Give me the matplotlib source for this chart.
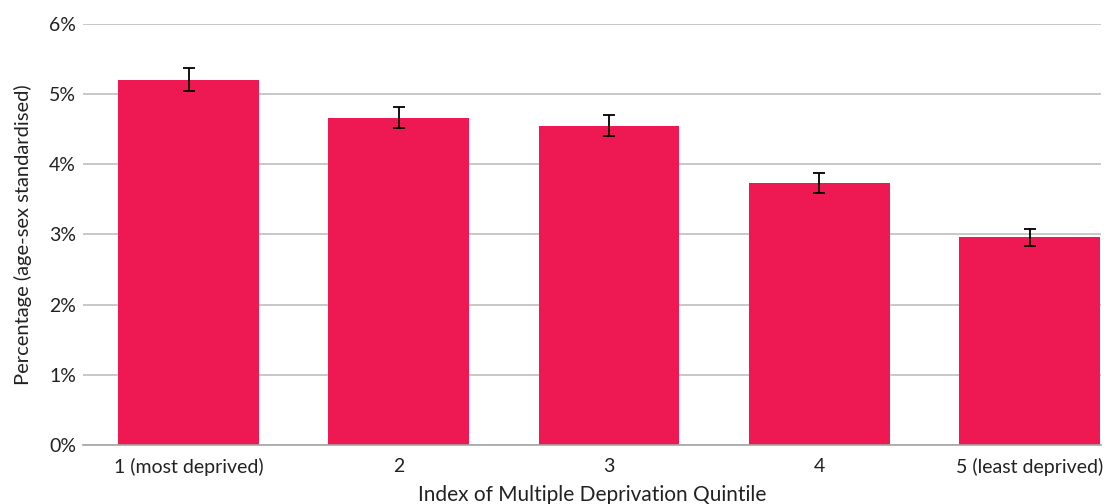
import numpy as np
import matplotlib.pyplot as plt

plt.rcParams['font.family'] = ['Lato', 'DejaVu Sans']

categories = ["1 (most deprived)", "2", "3", "4", "5 (least deprived)"]
values = [5.20, 4.66, 4.54, 3.73, 2.96]
lower = [5.04, 4.51, 4.40, 3.59, 2.84]
upper = [5.37, 4.82, 4.70, 3.87, 3.07]

bar_color = "#EE1852"
grid_color = "#BFBFBF"

fig = plt.figure(figsize=(11.1, 5.04), dpi=100)
ax = fig.add_axes([83 / 1110, 59 / 504, 1018 / 1110, 421.3 / 504])

x = np.arange(len(categories))
vals = np.array(values)
err = [vals - np.array(lower), np.array(upper) - vals]

ax.bar(x, vals, width=0.67, color=bar_color, zorder=2)
ax.errorbar(x, vals, yerr=err, fmt="none", ecolor="black", elinewidth=1.3,
            capsize=4, capthick=1.3, zorder=3)

ax.set_ylim(0, 6)
ax.set_xlim(-0.502, 4.34)
ax.set_yticks(range(0, 7))
ax.set_yticklabels([f"{i}%" for i in range(0, 7)])
ax.set_xticks(x)
ax.set_xticklabels(categories)

ax.yaxis.grid(True, color=grid_color, linewidth=1.2, zorder=0)
ax.set_axisbelow(True)
for s in ["top", "right", "left"]:
    ax.spines[s].set_visible(False)
ax.spines["bottom"].set_color("#A6A6A6")
ax.spines["bottom"].set_linewidth(1.2)
ax.tick_params(axis="both", length=0, labelsize=14, colors="#222222")
ax.tick_params(axis="y", pad=5)
ax.tick_params(axis="x", pad=9)

ax.set_xlabel("Index of Multiple Deprivation Quintile", fontsize=15,
              color="#222222", labelpad=7)
ax.set_ylabel("Percentage (age-sex standardised)", fontsize=14.5,
              color="#222222", labelpad=12)

fig.savefig("out.png", dpi=100)
